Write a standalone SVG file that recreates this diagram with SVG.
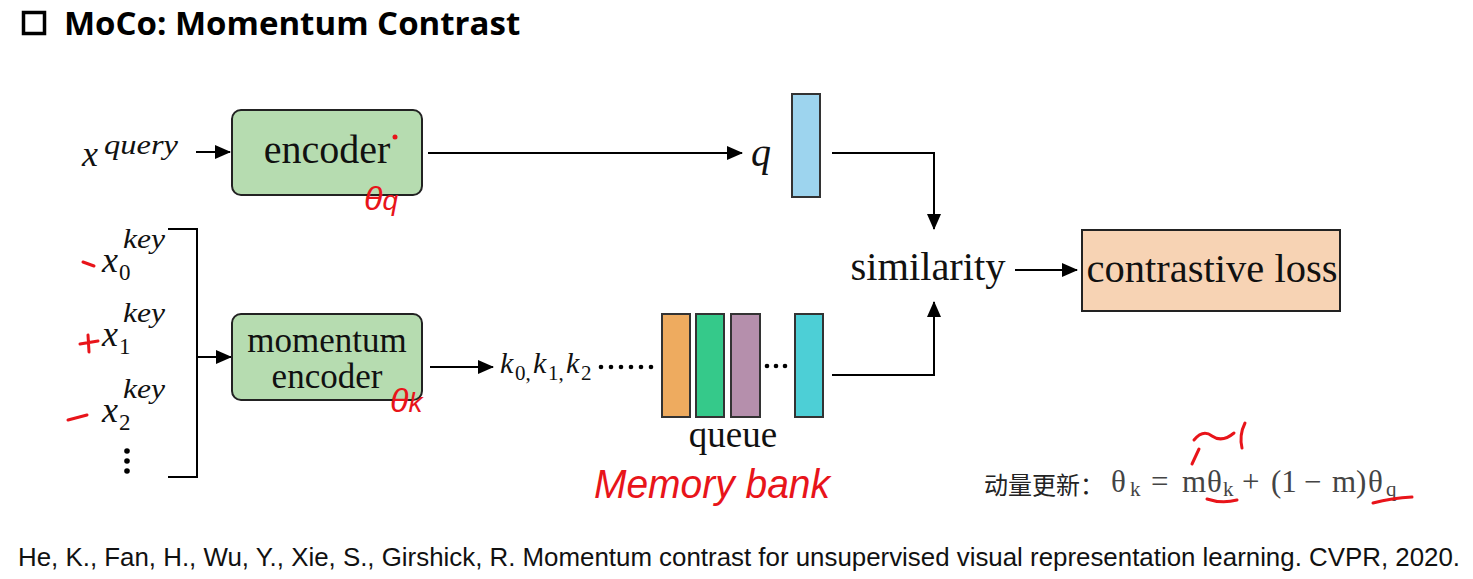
<svg xmlns="http://www.w3.org/2000/svg" width="1473" height="579" viewBox="0 0 1473 579">
<defs>
<marker id="ah" markerWidth="16" markerHeight="14" refX="15" refY="7" orient="auto" markerUnits="userSpaceOnUse" viewBox="0 0 16 14">
<path d="M0,0 L16,7 L0,14 Z" fill="#000"/>
</marker>
<style>
.ser{font-family:"Liberation Serif","Times New Roman",serif;fill:#111}
.mi{font-family:"Liberation Serif","DejaVu Serif",serif;font-style:italic;fill:#111}
.up{font-family:"Liberation Serif","DejaVu Serif",serif;fill:#111}
.box{stroke:#222;stroke-width:2}
.ln{stroke:#000;stroke-width:2;fill:none}
.red{fill:none;stroke:#e8141a;stroke-width:3;stroke-linecap:round;stroke-linejoin:round}
.redt{font-family:"Liberation Sans",sans-serif;fill:#e8141a;font-style:italic}
.bar{stroke:#333;stroke-width:2}
.fm{font-family:"Liberation Serif","DejaVu Serif",serif;fill:#444;font-size:31px}
.fs{font-family:"Liberation Serif","DejaVu Serif",serif;fill:#444;font-size:21px}
</style>
</defs>
<rect width="1473" height="579" fill="#fff"/>

<g id="title">
<rect x="23.500" y="12.500" width="21" height="21" fill="none" stroke="#000" stroke-width="3.500"/>
<text x="64" y="35" font-family="'Open Sans','Noto Sans',sans-serif" font-weight="bold" font-size="33" fill="#000">MoCo: Momentum Contrast</text>
</g>

<g id="connectors">
<line class="ln" x1="196" y1="152" x2="230" y2="152" marker-end="url(#ah)"/>
<line class="ln" x1="428" y1="153" x2="742" y2="153" marker-end="url(#ah)"/>
<polyline class="ln" points="832,153 934,153 934,229" marker-end="url(#ah)"/>
<polyline class="ln" points="832,375 934,375 934,302" marker-end="url(#ah)"/>
<line class="ln" x1="1015" y1="270" x2="1077" y2="270" marker-end="url(#ah)"/>
<polyline class="ln" points="168,229 197,229 197,477 168,477"/>
<line class="ln" x1="197" y1="357" x2="231" y2="357" marker-end="url(#ah)"/>
<line class="ln" x1="430" y1="367" x2="493" y2="367" marker-end="url(#ah)"/>
</g>

<g id="xquery">
<text class="mi" x="82" y="166" font-size="36">x</text>
<text class="mi" x="104" y="154" font-size="27" textLength="74" lengthAdjust="spacingAndGlyphs">query</text>
</g>

<g id="encoder">
<rect class="box" x="232" y="110" width="190" height="85" rx="9" fill="#b6dcb0"/>
<text class="ser" x="327" y="163" font-size="40" text-anchor="middle">encoder</text>
</g>

<g id="q">
<text class="mi" x="751" y="166" font-size="40">q</text>
<rect class="bar" x="792" y="94" width="28" height="103" fill="#9dd4ee"/>
</g>

<g id="similarity">
<text class="ser" x="928" y="280" font-size="40.500" text-anchor="middle">similarity</text>
</g>

<g id="loss">
<rect class="box" x="1082" y="230" width="258" height="81" fill="#f7d3b4"/>
<text class="ser" x="1212" y="282" font-size="40.500" text-anchor="middle">contrastive loss</text>
</g>

<g id="keys">
<text class="mi" x="102" y="272" font-size="36">x</text>
<text class="mi" x="123" y="248" font-size="27" textLength="42" lengthAdjust="spacingAndGlyphs">key</text>
<text class="up" x="119" y="280" font-size="23">0</text>
<text class="mi" x="102" y="346" font-size="36">x</text>
<text class="mi" x="123" y="322" font-size="27" textLength="42" lengthAdjust="spacingAndGlyphs">key</text>
<text class="up" x="119" y="354" font-size="23">1</text>
<text class="mi" x="102" y="422" font-size="36">x</text>
<text class="mi" x="123" y="398" font-size="27" textLength="42" lengthAdjust="spacingAndGlyphs">key</text>
<text class="up" x="119" y="430" font-size="23">2</text>
<circle cx="127" cy="451" r="2.800" fill="#000"/>
<circle cx="127" cy="461" r="2.800" fill="#000"/>
<circle cx="127" cy="471" r="2.800" fill="#000"/>
</g>

<g id="momentum-encoder">
<rect class="box" x="232" y="314" width="190" height="86" rx="9" fill="#b6dcb0"/>
<text class="ser" x="327" y="352" font-size="35" text-anchor="middle">momentum</text>
<text class="ser" x="327" y="388" font-size="35" text-anchor="middle">encoder</text>
</g>

<g id="keys-seq">
<text class="mi" x="500" y="373" font-size="30">k</text>
<text class="up" x="515" y="380" font-size="21">0,</text>
<text class="mi" x="533" y="373" font-size="30">k</text>
<text class="up" x="548" y="380" font-size="21">1,</text>
<text class="mi" x="566" y="373" font-size="30">k</text>
<text class="up" x="581" y="380" font-size="21">2</text>
<g fill="#000">
<circle cx="601" cy="367" r="2.300"/><circle cx="611" cy="367" r="2.300"/><circle cx="621" cy="367" r="2.300"/>
<circle cx="631" cy="367" r="2.300"/><circle cx="641" cy="367" r="2.300"/><circle cx="651" cy="367" r="2.300"/>
</g>
</g>

<g id="queue">
<rect class="bar" x="662" y="314" width="28" height="103" fill="#eeab5f"/>
<rect class="bar" x="696" y="314" width="28" height="103" fill="#35c98a"/>
<rect class="bar" x="731" y="314" width="29" height="103" fill="#b58fac"/>
<g fill="#000"><circle cx="767" cy="366" r="2.300"/><circle cx="776" cy="366" r="2.300"/><circle cx="785" cy="366" r="2.300"/></g>
<rect class="bar" x="795" y="314" width="28" height="103" fill="#4dcfd6"/>
<text class="ser" x="733" y="447" font-size="37" text-anchor="middle">queue</text>
</g>

<g id="formula">
<text x="984" y="494" font-family="'Noto Sans CJK SC','Noto Sans',sans-serif" font-size="24" fill="#222">动量更新：</text>
<text class="fm" x="1111" y="492">θ</text>
<text class="fs" x="1130" y="496">k</text>
<text class="fm" x="1151" y="492">=</text>
<text class="fm" x="1182" y="492">m</text>
<text class="fm" x="1207" y="492">θ</text>
<text class="fs" x="1223" y="496">k</text>
<text class="fm" x="1242" y="492">+</text>
<text class="fm" x="1271" y="492">(1</text>
<text class="fm" x="1304" y="492">−</text>
<text class="fm" x="1332" y="492">m)</text>
<text class="fm" x="1368" y="492">θ</text>
<text class="fs" x="1386" y="496">q</text>
</g>

<g id="citation">
<text x="18" y="566" font-family="'Liberation Sans',Arial,sans-serif" font-size="26" fill="#111" textLength="1442" lengthAdjust="spacingAndGlyphs">He, K., Fan, H., Wu, Y., Xie, S., Girshick, R. Momentum contrast for unsupervised visual representation learning. CVPR, 2020.</text>
</g>

<g id="annotations">
<circle cx="395" cy="137" r="2.500" fill="#e8141a"/>
<text class="redt" x="364" y="210" font-size="34">θ<tspan font-size="28">q</tspan></text>
<text class="redt" x="390" y="412" font-size="34">θ<tspan font-size="28">k</tspan></text>
<path class="red" d="M83,262 L94,266"/>
<path class="red" d="M80,344 L98,341 M88,335 L89,352"/>
<path class="red" d="M68,420 L87,415"/>
<text class="redt" x="594" y="498" font-size="40" textLength="236" lengthAdjust="spacingAndGlyphs">Memory bank</text>
<path class="red" d="M1194,440 Q1203,429 1212,436 Q1222,443 1234,433"/>
<path class="red" d="M1199,449 L1192,464"/>
<path class="red" d="M1245,423 Q1239,435 1242,448"/>
<path class="red" d="M1207,499 Q1222,504 1237,500"/>
<path class="red" d="M1373,503 Q1392,498 1412,497"/>
</g>
</svg>
